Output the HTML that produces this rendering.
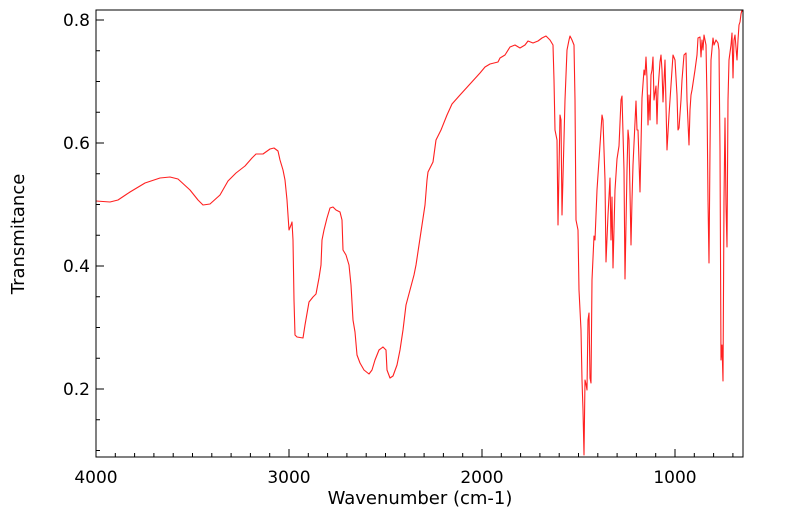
<!DOCTYPE html>
<html><head><style>body{margin:0;background:#fff}</style></head><body>
<svg width="799" height="516" xmlns="http://www.w3.org/2000/svg" font-family="DejaVu Sans, Liberation Sans, sans-serif">
<rect x="0" y="0" width="799" height="516" fill="#fff"/>
<g stroke="#000" stroke-width="1">
<path d="M96,20h8M96,143h8M96,266h8M96,389h8"/>
<path d="M96,50.75h4M96,81.5h4M96,112.25h4M96,173.75h4M96,204.5h4M96,235.25h4M96,296.75h4M96,327.5h4M96,358.25h4M96,419.75h4M96,450.5h4"/>
<path d="M96,457v-8M289,457v-8M482,457v-8M675,457v-8"/>
<path d="M115.3,457v-4M134.6,457v-4M153.9,457v-4M173.2,457v-4M192.5,457v-4M211.8,457v-4M231.1,457v-4M250.4,457v-4M269.7,457v-4M308.3,457v-4M327.6,457v-4M346.9,457v-4M366.2,457v-4M385.5,457v-4M404.8,457v-4M424.1,457v-4M443.4,457v-4M462.7,457v-4M501.3,457v-4M520.6,457v-4M539.9,457v-4M559.2,457v-4M578.5,457v-4M597.8,457v-4M617.1,457v-4M636.4,457v-4M655.7,457v-4M694.3,457v-4M713.6,457v-4M732.9,457v-4"/>
</g>
<polyline fill="none" stroke="#ff2020" stroke-width="1.1" stroke-linejoin="round" points="96,201 110,202 118,200 130,192 145,183 160,178 170,177 178,179 190,190 198,200 203,205 210,204 220,195 228,181 236,173 245,166 252,158 256,154 263,154 270,149 274,148 278,151 280,160 283,170 285,180 287,200 288,215 289,230 291,225 292,222 293,240 294,300 295,335 297,337 303,338 305,325 309,302 313,297 316,294 319,278 321,265 322,240 324,230 327,218 330,208 333,207 336,210 340,212 342,220 343,250 346,255 349,265 351,285 353,320 355,332 357,355 360,363 364,370 369,374 372,370 375,360 379,350 383,347 386,350 387,370 390,378 393,376 397,365 400,350 403,330 406,305 410,290 414,275 416,265 419,245 422,225 425,205 427,180 428,172 433,162 436,140 441,130 447,115 452,104 460,95 470,84 480,73 485,67 490,64 498,62 500,58 505,55 510,47 515,45 520,48 525,45 528,41 533,43 538,41 542,38 546,36 550,40 553,45 554,80 555,130 557,140 558,225 560,115 561,120 562,215 565,100 567,50 569,40 570,36 572,40 574,45 575,100 576,220 578,230 579,290 581,330 582,380 583,410 584,455 585,380 586,384 587,390 588,320 589,313 590,378 591,383 592,280 594,236 595,240 597,190 599,160 602,115 603,120 605,180 606,262 608,215 610,178 611,240 612,197 613,268 615,190 617,159 619,146 621,100 622,96 624,170 625,279 627,170 628,130 629,140 631,245 632,200 633,165 636,101 637,130 638,130 640,192 642,98 644,70 645,75 646,57 647,78 648,125 649,95 650,120 651,75 652,70 653,57 654,100 656,86 657,124 658,90 660,62 661,55 662,70 663,102 665,60 667,150 669,115 670,100 673,55 675,60 677,95 678,130 679,128 681,100 682,80 684,55 686,53 687,100 689,145 690,110 691,95 692,90 695,70 697,55 698,38 700,37 701,57 702,40 703,50 704,35 706,45 707,100 708,200 709,263 710,150 711,60 713,38 714,45 716,40 718,43 719,50 720,150 721,360 722,345 723,381 724,200 725,118 726,205 727,247 728,100 729,60 731,45 732,33 733,78 734,40 735,35 737,60 738,40 739,25 740,22 741,14 742,10 743,12"/>
<rect x="96" y="10" width="647" height="447" fill="none" stroke="#000" stroke-width="1"/>
<g font-size="17" fill="#000">
<text x="90" y="26" text-anchor="end">0.8</text>
<text x="90" y="149" text-anchor="end">0.6</text>
<text x="90" y="272" text-anchor="end">0.4</text>
<text x="90" y="395" text-anchor="end">0.2</text>
<text x="96" y="483" text-anchor="middle">4000</text>
<text x="289" y="483" text-anchor="middle">3000</text>
<text x="482" y="483" text-anchor="middle">2000</text>
<text x="675" y="483" text-anchor="middle">1000</text>
<text x="420" y="504" text-anchor="middle" font-size="18">Wavenumber (cm-1)</text>
<text transform="translate(24,234) rotate(-90)" text-anchor="middle" font-size="18">Transmitance</text>
</g>
</svg>
</body></html>
